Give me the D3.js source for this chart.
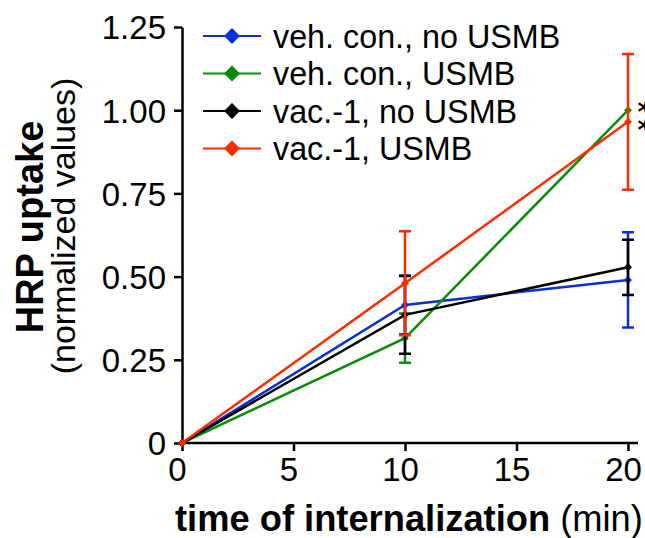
<!DOCTYPE html>
<html>
<head>
<meta charset="utf-8">
<script src="https://cdn.jsdelivr.net/npm/d3@7"></script>
<style>
  body { margin: 0; background: #fff; }
  svg text { font-family: "Liberation Sans", Arial, sans-serif; fill: #000; }
</style>
</head>
<body>
<div id="chart"></div>
<script>
// data
const times = [0, 10, 20];
const seriesNames = ["veh. con., no USMB", "veh. con., USMB", "vac.-1, no USMB", "vac.-1, USMB"];
const seriesColors = ["#0b2fd4", "#0a8c0a", "#000000", "#ff2a00"];
const vehNoUsmb = [0, 0.415, 0.49];
const vehUsmb = [0, 0.315, 1.0];
const vacNoUsmb = [0, 0.385, 0.528];
const vacUsmb = [0, 0.48, 0.965];
const vehNoUsmbErr = [0, 0.088, 0.143];
const vehUsmbErr = [0, 0.074, 0];
const vacNoUsmbErr = [0, 0.117, 0.083];
const vacUsmbErr = [0, 0.156, 0.204];
const xTicks = [0, 5, 10, 15, 20];
const yTicks = [0, 0.25, 0.5, 0.75, 1.0, 1.25];

const values = [vehNoUsmb, vehUsmb, vacNoUsmb, vacUsmb];
const errors = [vehNoUsmbErr, vehUsmbErr, vacNoUsmbErr, vacUsmbErr];

const W = 645, H = 538;

const svg = d3.select("#chart").append("svg")
  .attr("width", W)
  .attr("height", H);

// scales
const x = d3.scaleLinear().domain([0, 20]).range([182, 628]);
const y = d3.scaleLinear().domain([0, 1.25]).range([443, 27]);

// axes
const xAxis = svg.append("g")
  .attr("transform", `translate(0,${y(0)})`)
  .call(d3.axisBottom(x).tickValues(xTicks).tickFormat(d3.format("d")).tickSize(8).tickSizeOuter(0).tickPadding(5));
xAxis.select(".domain").attr("d", `M${x(0)},0H${x(20.45)}`);

const yAxis = svg.append("g")
  .attr("transform", `translate(${x(0)},0)`)
  .call(d3.axisLeft(y).tickValues(yTicks)
    .tickFormat(d => d === 0 ? "0" : d3.format(".2f")(d))
    .tickSize(8).tickSizeOuter(0).tickPadding(8));

svg.selectAll(".domain, .tick line").attr("stroke", "#000").attr("stroke-width", 2.5);
xAxis.selectAll(".tick text").attr("font-size", 33).attr("dy", "0.75em").attr("dx", -5);
yAxis.selectAll(".tick text").attr("font-size", 33).attr("dy", "0.36em");

// axis titles
const xt = svg.append("text")
  .attr("x", 175)
  .attr("y", 531)
  .attr("font-size", 36.3);
xt.append("tspan").attr("font-weight", "bold").text("time of internalization");
xt.append("tspan").text(" (min)");

svg.append("text")
  .attr("transform", `translate(43,227) rotate(-90)`)
  .attr("text-anchor", "middle")
  .attr("font-weight", "bold")
  .attr("font-size", 38)
  .text("HRP uptake");

svg.append("text")
  .attr("transform", `translate(75,226) rotate(-90)`)
  .attr("text-anchor", "middle")
  .attr("font-size", 34)
  .text("(normalized values)");

// series
const line = d3.line()
  .x((d, i) => x(times[i]))
  .y(d => y(d));

const diamond = d3.symbol().type(d3.symbolDiamond2);

values.forEach((vals, s) => {
  const g = svg.append("g");
  const color = seriesColors[s];

  g.append("path")
    .datum(vals)
    .attr("fill", "none")
    .attr("stroke", color)
    .attr("stroke-width", 2.5)
    .attr("d", line);

  // error bars
  const errs = vals.map((v, i) => ({t: times[i], v: v, e: errors[s][i]})).filter(d => d.e > 0);
  g.selectAll(".err")
    .data(errs)
    .join("path")
    .attr("fill", "none")
    .attr("stroke", color)
    .attr("stroke-width", 2.5)
    .attr("d", d => `M${x(d.t)},${y(d.v - d.e)}V${y(d.v + d.e)}`
      + `M${x(d.t) - 6},${y(d.v - d.e)}h12M${x(d.t) - 6},${y(d.v + d.e)}h12`);

  g.selectAll(".pt")
    .data(vals)
    .join("path")
    .attr("transform", (d, i) => `translate(${x(times[i])},${y(d)})`)
    .attr("d", diamond.size(40))
    .attr("fill", color);
});

// significance
svg.append("text")
  .attr("transform", `translate(625,118) rotate(90)`)
  .attr("text-anchor", "middle")
  .attr("font-size", 36)
  .attr("letter-spacing", 4)
  .text("**");

// legend
const legend = svg.append("g");
seriesNames.forEach((name, i) => {
  const ly = 36 + i * 37.5;
  legend.append("line")
    .attr("x1", 203).attr("x2", 261)
    .attr("y1", ly).attr("y2", ly)
    .attr("stroke", seriesColors[i])
    .attr("stroke-width", 2);
  legend.append("path")
    .attr("transform", `translate(232,${ly})`)
    .attr("d", diamond.size(160))
    .attr("fill", seriesColors[i]);
  legend.append("text")
    .attr("x", 273)
    .attr("y", ly)
    .attr("dy", "0.36em")
    .attr("font-size", 32.3)
    .text(name);
});
</script>
</body>
</html>
